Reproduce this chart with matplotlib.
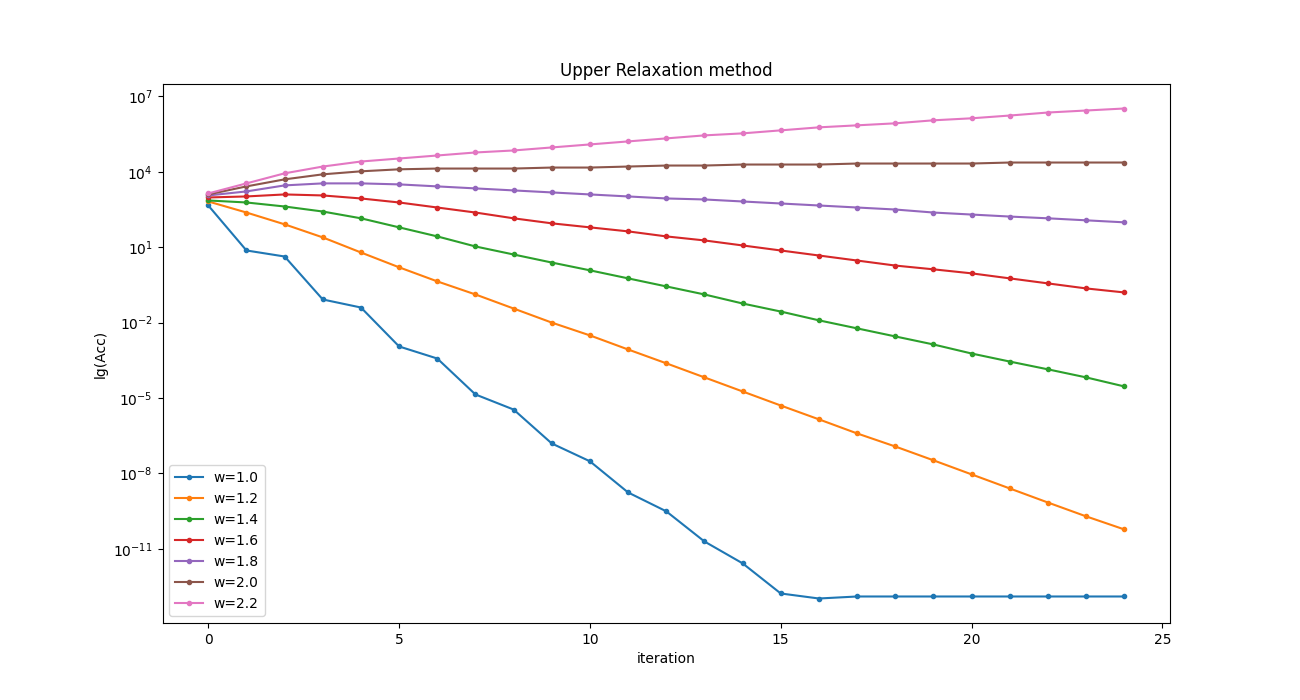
import numpy as np
import matplotlib
matplotlib.use("Agg")
import matplotlib.pyplot as plt

iterations = list(range(25))
omegas = [1.0, 1.2, 1.4, 1.6, 1.8, 2.0, 2.2]

# log10 of the accuracy
lg_w10 = [2.66, 0.87, 0.63, -1.08, -1.40, -2.95, -3.43, -4.86, -5.46, -6.81, -7.52,
          -8.76, -9.51, -10.71, -11.58, -12.78, -12.98, -12.90, -12.90, -12.90,
          -12.90, -12.90, -12.90, -12.90, -12.90]
lg_w12 = [2.82, 2.38, 1.91, 1.39, 0.79, 0.20, -0.36, -0.88, -1.44, -2.00, -2.51,
          -3.07, -3.62, -4.18, -4.74, -5.30, -5.85, -6.41, -6.93, -7.48, -8.04,
          -8.60, -9.16, -9.71, -10.23]
lg_w14 = [2.86, 2.78, 2.62, 2.42, 2.15, 1.79, 1.43, 1.03, 0.71, 0.39, 0.08, -0.24,
          -0.56, -0.88, -1.24, -1.56, -1.91, -2.23, -2.55, -2.87, -3.23, -3.55,
          -3.86, -4.18, -4.54]
lg_w16 = [2.98, 3.02, 3.10, 3.06, 2.94, 2.78, 2.58, 2.38, 2.15, 1.95, 1.79, 1.63,
          1.43, 1.27, 1.07, 0.87, 0.67, 0.47, 0.27, 0.12, -0.04, -0.24, -0.44,
          -0.64, -0.80]
lg_w18 = [3.06, 3.22, 3.46, 3.54, 3.54, 3.50, 3.42, 3.34, 3.26, 3.18, 3.10, 3.02,
          2.94, 2.90, 2.82, 2.74, 2.66, 2.58, 2.50, 2.38, 2.30, 2.22, 2.15, 2.07,
          1.99]
lg_w20 = [3.10, 3.42, 3.70, 3.90, 4.02, 4.10, 4.13, 4.13, 4.13, 4.17, 4.17, 4.21,
          4.25, 4.25, 4.29, 4.29, 4.29, 4.33, 4.33, 4.33, 4.33, 4.37, 4.37, 4.37,
          4.37]
lg_w22 = [3.14, 3.54, 3.94, 4.21, 4.41, 4.53, 4.65, 4.77, 4.85, 4.97, 5.09, 5.21,
          5.33, 5.45, 5.53, 5.65, 5.77, 5.85, 5.93, 6.05, 6.13, 6.24, 6.36, 6.44,
          6.52]

series = [lg_w10, lg_w12, lg_w14, lg_w16, lg_w18, lg_w20, lg_w22]

fig = plt.figure(figsize=(13, 7), dpi=100)
for w, lg in zip(omegas, series):
    plt.plot(iterations, 10.0 ** np.array(lg), marker='.', label="w=%.1f" % w)

plt.yscale('log')
plt.title("Upper Relaxation method")
plt.xlabel("iteration")
plt.ylabel("lg(Acc)")
plt.legend(loc='lower left')
plt.savefig("out.png")
